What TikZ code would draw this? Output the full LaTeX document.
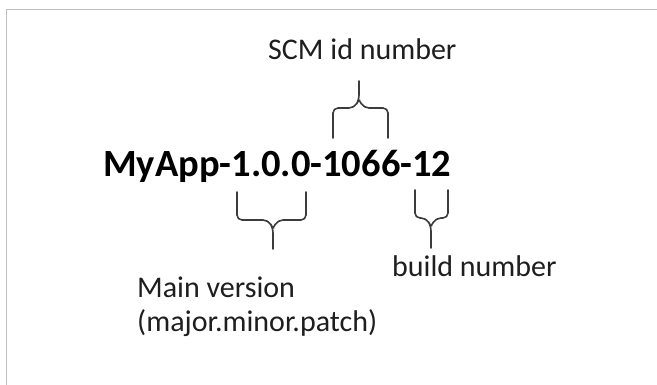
\documentclass[tikz,border=0pt]{standalone}
\usepackage{fontspec}
\setmainfont{Carlito}
\usepackage{tikz}
\definecolor{framegray}{RGB}{190,190,190}
\definecolor{bracegray}{RGB}{60,60,60}
\definecolor{textdark}{RGB}{30,30,30}
\tikzset{
  brace/.style={draw=bracegray, line width=1.6pt, rounded corners=5pt, line cap=round},
  label/.style={inner sep=0pt, anchor=base west, text=textdark, font=\fontsize{30}{34}\selectfont, align=left}
}

\begin{document}
\begin{tikzpicture}[x=1pt,y=-1pt]
\useasboundingbox (0,0) rectangle (657,385);
% frame
\draw[framegray, line width=1.2pt] (6.3,385) -- (6.3,9.3) -- (657,9.3);
% texts
\node[label, font=\bfseries\fontsize{38.5}{44}\selectfont, text=black] (app) at (103,177) {MyApp-1.0.0-1066-12};
\node[label] (scm) at (268,60) {SCM id number};
\node[label] (build) at (392,277) {build number};
\node[label] (mainver) at (137,331) {Main version\\(major.minor.patch)};
% brace points
\coordinate (sl) at (333,138);
\coordinate (sr) at (388,138);
\coordinate (st) at (359,81);
\coordinate (ml) at (237,192);
\coordinate (mr) at (306,192);
\coordinate (mt) at (273,249);
\coordinate (bl) at (415,190);
\coordinate (br) at (448,190);
\coordinate (bt) at (431,248);
% SCM brace
\draw[brace] (sl) -- (sl |- 0,108) -- (354,108) -- (359,100) -- (st);
\draw[brace] (sr) -- (sr |- 0,108) -- (364,108) -- (359,100);
% main version brace
\draw[brace] (ml) -- (ml |- 0,220) -- (268,220) -- (273,228) -- (mt);
\draw[brace] (mr) -- (mr |- 0,220) -- (278,220) -- (273,228);
% build brace
\draw[brace] (bl) -- (bl |- 0,218) -- (426,218) -- (431,226) -- (bt);
\draw[brace] (br) -- (br |- 0,218) -- (436,218) -- (431,226);
\end{tikzpicture}
\end{document}
